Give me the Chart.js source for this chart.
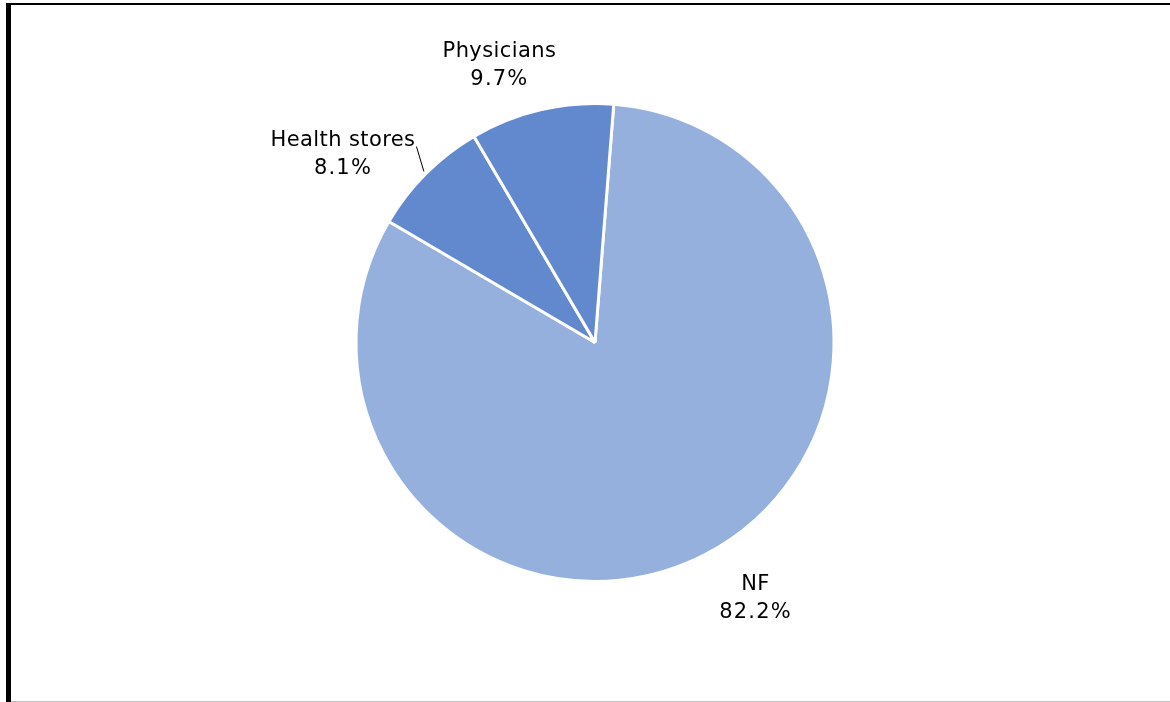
<!DOCTYPE html>
<html>
<head>
<meta charset="utf-8">
<script src="https://cdn.jsdelivr.net/npm/chart.js@4"></script>
<style>
  html, body { margin: 0; padding: 0; background: #fff; }
  #wrap { width: 1170px; height: 702px; position: relative; }
</style>
</head>
<body>
<div id="wrap"><canvas id="pieChart" width="1170" height="702"></canvas></div>
<script>
// chart data
const categories = ["NF", "Health stores", "Physicians"]
const shares = [82.2, 8.1, 9.7]
const sliceColors = ["#95b0dd", "#6288ce", "#6288ce"]

// label placement relative to the slice's outer edge point (dx, dy), and leader line flag
const labelOffsets = [
  { dx: 50, dy: 44, leader: false },
  { dx: -83, dy: -19, leader: true },
  { dx: -42, dy: -44, leader: false },
]

// frame lines round the chart
const framePlugin = {
  id: "frame",
  beforeDraw(chart) {
    const c = chart.ctx
    c.save()
    c.fillStyle = "#fff"
    c.fillRect(0, 0, chart.width, chart.height)
    c.fillStyle = "#000"
    c.fillRect(6, 3, 5, 699)
    c.fillRect(11, 3, 1159, 2)
    c.fillStyle = "#bfbfbf"
    c.fillRect(11, 701, 1159, 1)
    c.restore()
  },
}

// outside labels: name + percent
const labelPlugin = {
  id: "outLabels",
  afterDatasetsDraw(chart) {
    const c = chart.ctx
    const meta = chart.getDatasetMeta(0)
    c.save()
    c.font = "21px 'DejaVu Sans'"
    c.fillStyle = "#000"
    c.textAlign = "center"
    c.textBaseline = "middle"
    meta.data.forEach((arc, i) => {
      const mid = (arc.startAngle + arc.endAngle) / 2
      const ex = arc.x + Math.cos(mid) * arc.outerRadius
      const ey = arc.y + Math.sin(mid) * arc.outerRadius
      const off = labelOffsets[i]
      const lx = ex + off.dx
      const ly = ey + off.dy
      c.letterSpacing = "0.4px"
      c.fillText(categories[i], lx, ly - 14)
      const w = c.measureText(categories[i]).width
      c.letterSpacing = "1.2px"
      c.fillText(shares[i].toFixed(1) + "%", lx, ly + 14)
      if (off.leader) {
        c.beginPath()
        c.strokeStyle = "#000"
        c.lineWidth = 1
        c.moveTo(lx + w / 2 + 1, ly - 8)
        c.lineTo(arc.x + Math.cos(mid) * (arc.outerRadius + 3), arc.y + Math.sin(mid) * (arc.outerRadius + 3))
        c.stroke()
      }
    })
    c.restore()
  },
}

const ctx = document.getElementById("pieChart").getContext("2d")
new Chart(ctx, {
  type: "pie",
  data: {
    labels: categories,
    datasets: [
      {
        data: shares,
        backgroundColor: sliceColors,
        borderColor: "#ffffff",
        borderWidth: 3,
      },
    ],
  },
  options: {
    responsive: false,
    animation: false,
    rotation: 4.5,
    layout: {
      padding: { left: 200, right: 180, top: 102, bottom: 119 },
    },
    plugins: {
      legend: { display: false },
      tooltip: { enabled: false },
    },
  },
  plugins: [framePlugin, labelPlugin],
})
</script>
</body>
</html>
